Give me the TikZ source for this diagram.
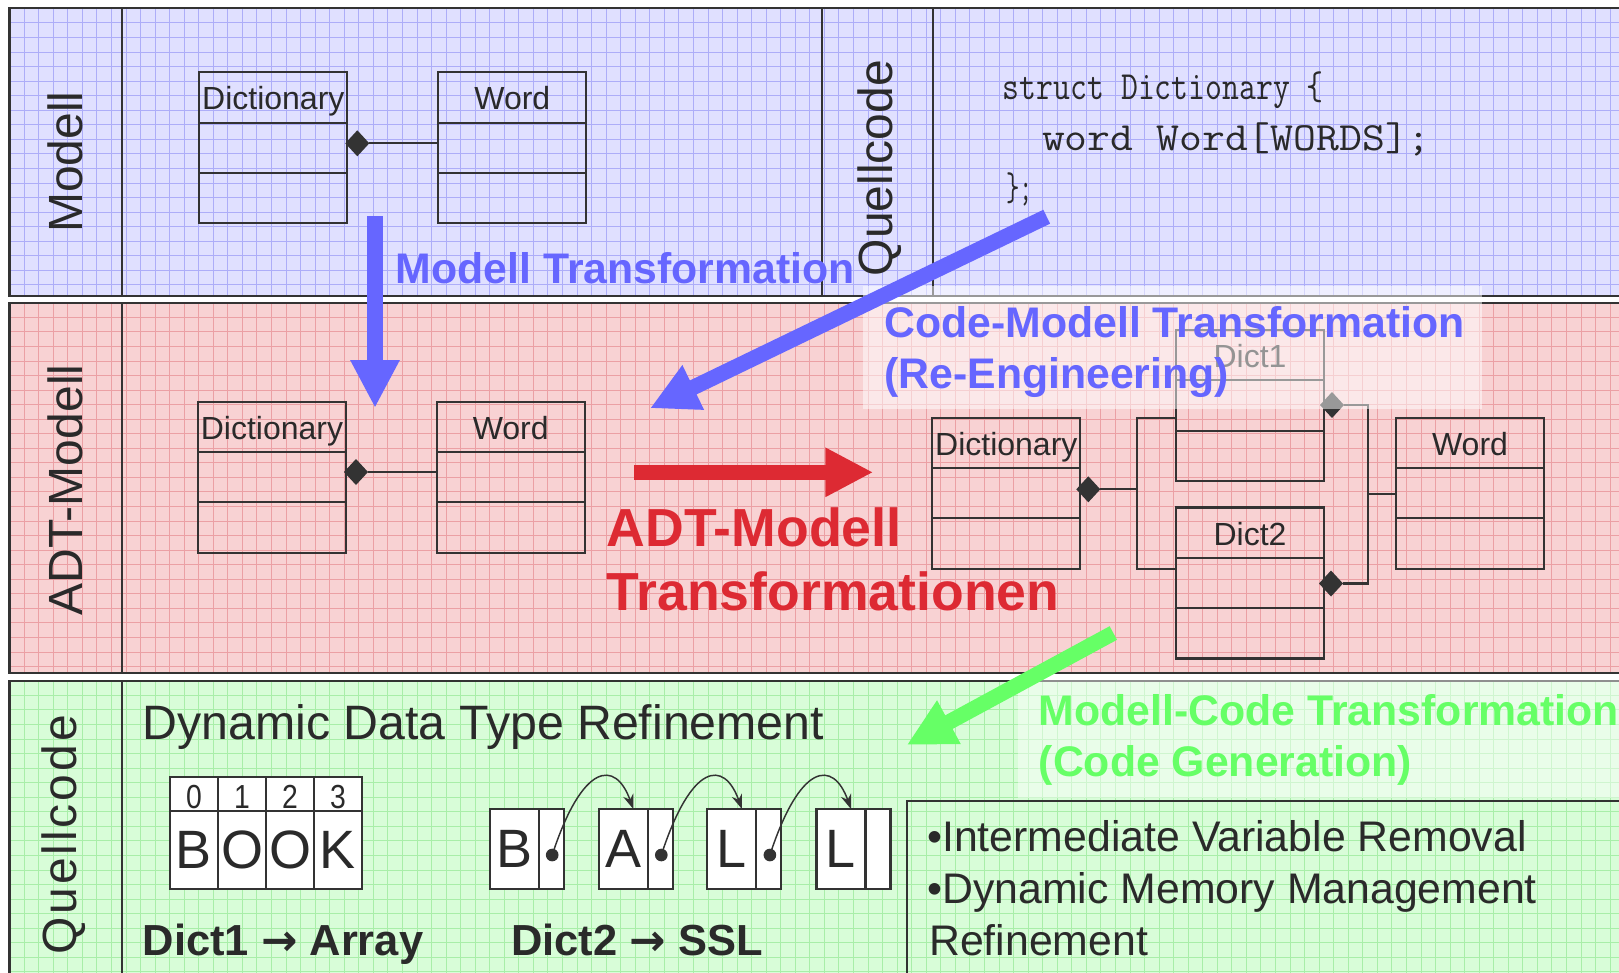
\documentclass[tikz,border=0pt]{standalone}
\usepackage{fontspec}
\setmainfont{Liberation Sans}
\newfontfamily\arrowfont{DejaVu Sans}
\usetikzlibrary{arrows.meta,shapes.geometric,calc}

\definecolor{edge}{HTML}{333333}
\definecolor{ink}{HTML}{2A2A2A}
\definecolor{bluebg}{HTML}{E0E0FF}
\definecolor{bluegrid}{HTML}{ADADF8}
\definecolor{redbg}{HTML}{F8D2D3}
\definecolor{redgrid}{HTML}{EBA0A4}
\definecolor{greenbg}{HTML}{D8FDD8}
\definecolor{greengrid}{HTML}{A8EEA8}
\definecolor{xblue}{HTML}{6666FF}
\definecolor{xred}{HTML}{DD2A33}
\definecolor{xgreen}{HTML}{66FF66}

\newcommand{\fsz}[1]{\fontsize{#1}{#1}\selectfont}

% one horizontal band: tinted paper with a fine grid
\newcommand{\gridpanel}[4]{% top, bottom, fill colour, grid colour
  \fill[#3] (9.5,#1) rectangle (1640,#2);
  \begin{scope}
    \clip (9.5,#1) rectangle (1640,#2);
    \foreach \k in {1,...,111}
      \draw[gridline,#4] ({9.5+14.55*\k},#1) -- ({9.5+14.55*\k},#2);
    \foreach \k in {1,...,26}
      \draw[gridline,#4] (9.5,{#1+14.55*\k}) -- (1640,{#1+14.55*\k});
  \end{scope}
  \draw[frame] (9.5,#1) rectangle (1640,#2);
}

% UML class: name, left, top, title
\newcommand{\umlclass}[4]{%
  \node[classbox, anchor=north west] (#1) at (#2,#3) {};
  \draw[umledge] ($(#1.north west)+(0,50.3)$) -- ($(#1.north east)+(0,50.3)$)
                 ($(#1.north west)+(0,100.6)$) -- ($(#1.north east)+(0,100.6)$);
  \node[classtitle, anchor=base] (#1-t) at ($(#1.north)+(0,37.5)$) {#4};
}

\begin{document}
\begin{tikzpicture}[x=0.75pt,y=-0.75pt,
    frame/.style={draw=edge, line width=1.6pt},
    gridline/.style={line width=0.55pt},
    umledge/.style={draw=edge, line width=1.6pt},
    classbox/.style={rectangle, draw=edge, line width=1.6pt, minimum width=111pt,
      minimum height=113.25pt, inner sep=0pt, outer sep=0pt},
    classtitle/.style={inner sep=0pt, text=ink, font=\fsz{24}},
    composite/.style={diamond, fill=edge, minimum width=18pt, minimum height=19.5pt,
      inner sep=0pt, outer sep=0pt},
    sidelabel/.style={rotate=90, inner sep=0pt, text=ink, font=\fsz{36}},
    txt/.style={inner sep=0pt, anchor=base west},
    bigarrow/.style={line width=11.6pt, -{Triangle[length=36pt,width=34.5pt]}},
    codeline/.style={txt, text=ink, font=\ttfamily\fsz{30}},
    idxcell/.style={rectangle, draw=edge, fill=white, line width=1.6pt, minimum width=36pt,
      minimum height=25.5pt, inner sep=0pt, outer sep=0pt},
    chcell/.style={rectangle, draw=edge, fill=white, line width=1.6pt, minimum width=36pt,
      minimum height=58.7pt, inner sep=0pt, outer sep=0pt},
    llval/.style={rectangle, draw=edge, fill=white, line width=1.6pt, minimum width=36.75pt,
      minimum height=60pt, inner sep=0pt, outer sep=0pt},
    llptr/.style={rectangle, draw=edge, fill=white, line width=1.6pt, minimum width=18.75pt,
      minimum height=60pt, inner sep=0pt, outer sep=0pt},
    ptrdot/.style={circle, fill=edge, minimum size=9.5pt, inner sep=0pt},
    llarrow/.style={draw=edge, line width=1.1pt, -{Stealth[length=11pt,width=8pt]}},
    bigletter/.style={inner sep=0pt, text=ink, font=\fsz{40.5}},
    digit/.style={inner sep=0pt, text=ink, font=\fsz{25}},
    darktext/.style={txt, text=ink, font=\fsz{32.1}},
    captext/.style={txt, font=\bfseries\fsz{32.1}}]

\useasboundingbox (0,0) rectangle (1619,972);
\clip (0,0) rectangle (1619,972);

% ---------- the three bands ----------
\gridpanel{8.3}{296.2}{bluebg}{bluegrid}
\gridpanel{302.7}{673}{redbg}{redgrid}
\gridpanel{680.7}{1000}{greenbg}{greengrid}

\draw[frame] (121.7,8.3) -- (121.7,296.2);
\draw[frame] (822,8.3) -- (822,296.2);
\draw[frame] (933,8.3) -- (933,296.2);
\draw[frame] (121.7,302.7) -- (121.7,673);
\draw[frame] (121.7,680.7) -- (121.7,1000);

\node[sidelabel] (lblModell) at (65.5,162) {Modell};
\node[sidelabel] (lblCode) at (880,168) {Quellcode};
\node[sidelabel] (lblADT) at (65.5,490) {ADT-Modell};
\node[sidelabel] (lblCodeB) at (63.5,835)
  {Q\kern2.2pt u\kern2.2pt e\kern2.2pt l\kern2.2pt l\kern2.2pt c\kern2.2pt o\kern2.2pt d\kern2.2pt e};

% ---------- model level ----------
\umlclass{mDict}{199.3}{72.3}{Dictionary}
\umlclass{mWord}{438.3}{72.3}{Word}
\node[composite] (mDia) at ($(mDict.north east)+(10,71)$) {};
\draw[umledge] (mDia.east) -- (mDia.east -| mWord.west);

% source code
\node[codeline] (code1) at (1002.6,99) {\scalebox{0.82}[1]{struct Dictionary \{}};
\node[codeline] (code2) at (1041.8,150) {\scalebox{1.11}[1]{word Word[WORDS];}};
\node[codeline] (code3) at (1006,200) {\scalebox{0.65}[1]{\};}};

% ---------- ADT model level ----------
\umlclass{aDict}{198}{401.6}{Dictionary}
\umlclass{aWord}{436.7}{401.6}{Word}
\node[composite] (aDia) at ($(aDict.north east)+(10,70.4)$) {};
\draw[umledge] (aDia.east) -- (aDia.east -| aWord.west);

\umlclass{rDict}{932.3}{417.7}{Dictionary}
\umlclass{rDictA}{1176}{330}{Dict1}
\umlclass{rDictB}{1176}{507.5}{Dict2}
\umlclass{rWord}{1396}{417.7}{Word}

\node[composite] (rDia) at ($(rDict.north east)+(8,71.6)$) {};
\coordinate (jL) at (1137,489.3);
\draw[umledge] (rDia.east) -- (jL);
\draw[umledge] (rDictA.west |- rDict.north) -- (jL |- rDict.north)
               -- (jL |- rDict.south) -- (rDictB.west |- rDict.south);

\node[composite] (dA) at ($(rDictA.north east)+(8,75)$) {};
\node[composite] (dB) at ($(rDictB.north east)+(7,76)$) {};
\coordinate (jR) at (1368,494.3);
\draw[umledge] (dA.east) -- (dA.east -| jR) -- (dB.east -| jR) -- (dB.east);
\draw[umledge] (jR) -- (jR -| rWord.west);

% translucent plates behind the transformation captions
\fill[white, opacity=0.5] (863,286) rectangle (1482,409);
\fill[white, opacity=0.45] (1018,675) rectangle (1640,798);

% ---------- source level ----------
\node[darktext, font=\fsz{36.2}] (ddtr) at (142.5,739.5) {Dynamic Data Type Refinement};

\foreach \i/\d/\c in {0/0/B,1/1/O,2/2/O,3/3/K} {
  \node[idxcell] (idx\i) at ({194+48*\i},793.7) {};
  \node[chcell] (ch\i) at ({194+48*\i},849.8) {};
  \node[digit, anchor=base] (dg\i) at ({194+48*\i},808) {\scalebox{0.85}[1]{\d}};
  \node[bigletter] (lt\i) at ({194+48*\i},849.5) {\c};
}

\foreach \i/\c/\x in {0/B/489.7,1/A/598.8,2/L/707.4,3/L/816.5} {
  \node[llval] (v\i) at ({\x+24.5},849) {};
  \node[llptr] (p\i) at ({\x+61.5},849) {};
  \node[bigletter] (vl\i) at ({\x+24.5},849) {\c};
}
\foreach \i in {0,1,2} {
  \node[ptrdot] (dot\i) at ($(p\i.center)+(1,6)$) {};
}
\foreach \i/\j in {0/1,1/2,2/3} {
  \coordinate (tg\j) at ($(v\j.north west)+(34.5,0)$);
  \draw[llarrow] (dot\i.center) .. controls +(30,-92) and +(-18,-50) .. (tg\j);
}

\node[txt, text=ink, font=\bfseries\fsz{32.6}] (dictA) at (142.5,955)
  {Dict1 {\arrowfont\bfseries →} Array};
\node[txt, text=ink, font=\bfseries\fsz{32.6}] (dictB) at (511,955)
  {Dict2 {\arrowfont\bfseries →} SSL};

\draw[frame] (906.9,800.7) rectangle (1700,1100);
\node[darktext] (b1) at (927,851.7) {•Intermediate Variable Removal};
\node[darktext] (b2) at (927,903.3) {•Dynamic Memory Management};
\node[darktext] (b3) at (929,955) {Refinement};

% ---------- transformation arrows ----------
\coordinate (mtTail) at (375,216.3);
\coordinate (mtTip) at (375,408);
\draw[bigarrow, xblue] (mtTail) -- (mtTip);

\coordinate (cmTail) at (1046.7,216.7);
\coordinate (cmTip) at (650,408.3);
\draw[bigarrow, xblue] (cmTail) -- (cmTip);

\coordinate (adTail) at (634,472.3);
\coordinate (adTip) at (873.3,472.3);
\draw[bigarrow, xred] (adTail) -- (adTip);

\coordinate (mcTail) at (1113.3,633);
\coordinate (mcTip) at (906.7,745);
\draw[bigarrow, xgreen] (mcTail) -- (mcTip);

% ---------- captions ----------
\node[captext, text=xblue] (capM) at (395.5,283) {Modell Transformation};
\node[captext, text=xblue] (capC1) at (884,337.7) {Code-Modell Transformation};
\node[captext, text=xblue] (capC2) at (884,388.3) {(Re-Engineering)};
\node[captext, text=xred, font=\bfseries\fsz{40.2}] (capA1) at (606.5,546.7) {ADT-Modell};
\node[captext, text=xred, font=\bfseries\fsz{40.2}] (capA2) at (606.5,610) {Transformationen};
\node[captext, text=xgreen] (capG1) at (1038.5,725.5) {Modell-Code Transformation};
\node[captext, text=xgreen] (capG2) at (1038.5,776) {(Code Generation)};

\end{tikzpicture}
\end{document}
